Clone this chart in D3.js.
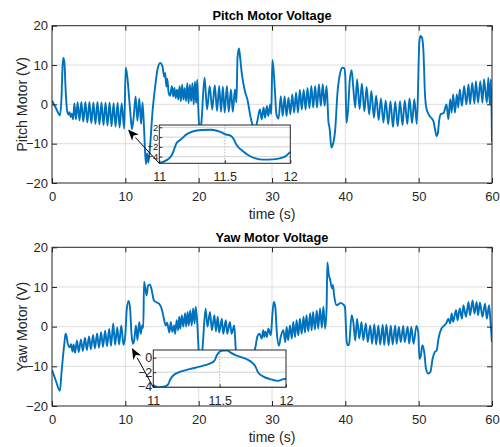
<!DOCTYPE html>
<html><head><meta charset="utf-8">
<script src="https://cdn.jsdelivr.net/npm/d3@7"></script>
<style>body{margin:0;background:#fff;} svg{display:block;font-family:"Liberation Sans",Arial,Helvetica,sans-serif;}</style>
</head><body><svg id="c" width="500" height="447"></svg>
<script>
// ---------------- data ----------------
const xTicks = [0,10,20,30,40,50,60];
const yTicks = [-20,-10,0,10,20];
const insetXTicks = [11,11.5,12];
const pitchInsetYTicks = [-4,-2,0,2];
const yawInsetYTicks = [-4,-2,0];
const titles = ["Pitch Motor Voltage","Yaw Motor Voltage"];
const yLabels = ["Pitch Motor (V)","Yaw Motor (V)"];
const xLabel = "time (s)";
const arrowTips = [[10.36,-6.4],[10.9,-5.4]]; // data coordinates the arrows point at

const pitchData = [
[0,0.9],[0.5,-0.8],[1.1,-2.8],[1.3,2],[1.45,10],[1.55,11.8],[1.7,10.5],[1.85,4],[2.05,-1.5],[2.25,-2.6],[2.4,-2.0],[2.55,-3.2],[2.7,-2.4],[2.88,-3.8],
[3.05,0.2],[3.27,-3.8],[3.5,0.5],[3.75,-4.1],[4.0,0.6],[4.27,-4.4],[4.55,0.6],[4.82,-4.6],[5.1,0.6],[5.37,-4.8],[5.65,0.5],[5.92,-5.0],[6.2,0.6],[6.47,-5.1],[6.75,0.5],[7.02,-5.3],[7.3,0.4],[7.57,-5.4],[7.85,0.5],[8.12,-5.6],[8.4,0.3],[8.67,-5.7],[8.95,0.4],[9.22,-5.9],[9.5,0.2],[9.85,-6.2],
[10.05,9.4],[10.3,6.5],[10.5,2],[10.7,-2.5],[10.9,-6.3],[11.15,-3],[11.4,2],[11.65,-4.2],[11.9,1.5],[12.15,-5],[12.35,0.5],[12.55,-6],[12.8,-15.2],[12.95,-12.5],[13.15,-14.8],[13.4,-10],[13.7,-2],[14.1,5],[14.4,9],[14.75,10.5],[15.05,9.8],[15.3,7.0],[15.42,8.0],[15.6,4.5],[15.72,6.5],[15.9,3.0],[16.1,2.2],
[16.35,4.6],[16.52,2.0],[16.7,4.2],[16.87,1.6],[17.05,3.7],[17.22,1.2],[17.4,4.6],[17.57,0.8],[17.75,5.0],[17.92,1.2],[18.1,4.2],[18.27,0.8],[18.45,5.4],[18.62,0.3],[18.8,5.0],[18.97,0.8],[19.15,5.4],[19.32,0.0],[19.5,5.8],[19.65,0.3],[19.8,6.3],
[19.95,-1],[20.15,-8],[20.4,-4],[20.8,6.8],[21.15,-1.3],[21.5,4.7],[21.85,-1.3],[22.2,4.9],[22.5,-1.7],[22.8,4.7],[23.05,-1.9],[23.3,4.5],[23.55,-2.1],[23.85,4.7],[24.1,-1.9],[24.4,3.8],[24.65,-1.9],[24.95,3.8],[25.15,0.5],[25.3,12],[25.5,14.2],[25.65,12],[25.9,7.6],[26.3,3.4],[26.7,0.8],[27.0,-2.5],[27.4,-5.5],[27.7,-6],[27.95,-4.7],[28.35,-1.3],[28.6,-3.8],[28.85,-0.8],[29.05,-3.4],[29.3,-0.4],[29.5,-3],[29.75,0],[29.9,-2.5],[30.05,11.3],[30.2,9],[30.4,3.4],[30.6,-2.5],[30.9,-3.6],
[31.2,2.1],[31.46,-3.0],[31.72,2.1],[31.98,-3.0],[32.24,1.7],[32.5,-2.5],[32.76,2.5],[33.02,-2.1],[33.28,3.0],[33.54,-2.1],[33.8,3.7],[34.06,-1.3],[34.32,3.7],[34.58,-1.3],[34.84,4.2],[35.1,-1.0],[35.36,4.7],[35.62,-0.8],[35.88,4.7],[36.14,-0.8],[36.4,5.1],[36.66,-0.4],[36.92,5.1],[37.18,-0.4],[37.44,4.7],[37.7,-4.5],
[37.85,-6],[38.1,-11],[38.25,-10.5],[38.6,-6.8],[38.95,3.4],[39.3,8],[39.6,9.3],[39.85,9.2],[40.0,7],[40.15,-4.7],[40.35,-2],[40.6,6],[40.86,8.7],[41.05,5],
[41.35,-0.8],[41.6,6.4],[41.95,-1.2],[42.25,5.3],[42.6,-1.8],[42.9,4.4],[43.25,-2.6],[43.55,3.4],[43.9,-3.4],[44.2,2.2],[44.55,-4.0],[44.85,1.5],[45.2,-4.6],[45.5,1.0],[45.85,-5.1],[46.15,0.8],[46.5,-5.8],[46.8,0.7],[47.15,-5.6],[47.45,0.8],[47.8,-5.3],[48.1,1.0],[48.45,-5.0],[48.75,1.5],[49.1,-4.8],[49.4,1.3],[49.75,-5.0],
[50.1,16],[50.25,17.4],[50.45,17],[50.65,13.5],[50.85,3],[51.05,-1],[51.5,-3],[52.0,-4.2],[52.2,-6],[52.45,-8.1],[52.6,-7.5],[52.8,-4],[53.0,-2.5],[53.4,-2.2],
[53.8,0],[54.05,-3.8],[54.3,1.3],[54.5,-2.1],[54.7,2.5],[54.95,-2.1],[55.2,2.5],[55.4,-0.8],[55.6,3.8],[55.9,-0.4],[56.2,4.7],[56.5,0],[56.8,5.1],[57.0,0],[57.3,5.5],[57.6,0.2],[57.8,5.9],[58.1,0.4],[58.4,5.9],[58.7,0.4],[58.9,6.4],[59.3,0.4],[59.5,6.8],[59.7,0.0],[59.85,6.4],[60,-9.7]
];

const yawData = [
[0,-10.9],[0.5,-13.5],[1.08,-16.2],[1.3,-11.5],[1.5,-7.5],[1.7,-4],[1.85,-1.8],[2.0,-2.5],[2.15,-4.3],[2.45,-5.2],[2.6,-4.4],[2.8,-6.3],[2.95,-4.5],[3.15,-6.6],
[3.4,-3.5],[3.65,-6.4],[3.95,-3.2],[4.2,-6.1],[4.5,-2.8],[4.75,-5.9],[5.05,-2.5],[5.3,-5.7],[5.6,-2.1],[5.85,-5.5],[6.15,-1.7],[6.4,-5.3],[6.7,-1.4],[6.95,-5.1],[7.25,-1.0],[7.5,-4.9],[7.8,-0.6],[8.05,-4.8],[8.35,0.8],[8.6,-4.6],[8.9,-0.2],[9.15,-4.5],[9.45,0.3],[9.75,-4.6],
[10.0,-2],[10.2,4.5],[10.45,6.5],[10.65,4.5],[10.85,-2],[11.05,-4.3],[11.2,-3.5],[11.45,0.3],[11.65,-3.4],[11.9,1.2],[12.1,-1.8],[12.3,0.3],[12.45,-0.3],[12.55,11.3],[12.7,10],[12.9,7.9],[13.1,10.4],[13.35,10.6],[13.6,9.2],[13.9,6.6],[14.3,6.1],[14.6,5.8],[15.0,4.2],[15.3,1.6],[15.5,0.3],[15.7,1.0],[16.0,-1.5],
[16.2,1.2],[16.4,-1.3],[16.65,0.3],[16.8,-1.8],[17.0,1.6],[17.2,-0.9],[17.35,2.5],[17.5,-0.5],[17.7,2.9],[17.9,0],[18.15,3.4],[18.3,0],[18.5,3.7],[18.65,0.3],[18.85,4.1],[19.05,0.3],[19.25,4.6],[19.45,0.8],[19.6,5.0],[19.8,1.2],
[20.0,-6],[20.2,-10],[20.5,-6],[20.95,4.5],[21.2,0],[21.55,3.7],[21.8,-0.9],[22.15,2.9],[22.35,-1.2],[22.6,2.5],[22.8,-1.5],[23.15,2.0],[23.35,-1.8],[23.7,1.6],[23.9,-1.8],[24.25,1.2],[24.5,-1.8],[24.85,0.3],[25.05,-5.5],[25.3,-10],[25.8,-12],[26.5,-11],[27.2,-8],[27.75,-5.1],[28.0,-2.5],[28.3,-1.8],[28.6,-3.0],[28.8,-0.9],[28.95,-2.6],[29.1,-1.3],[29.3,-2.6],[29.5,-0.5],[29.85,-2.2],[30.05,3],[30.25,6.2],[30.45,5.0],[30.65,-1.3],[30.95,-4.8],[31.2,-2.5],
[31.55,-0.9],[31.8,-3.9],[32.0,-0.1],[32.2,-3.4],[32.45,0.3],[32.7,-3.0],[32.9,1.2],[33.15,-2.6],[33.35,1.6],[33.6,-2.2],[33.8,2.0],[34.05,-1.8],[34.3,2.5],[34.5,-1.5],[34.7,2.9],[34.95,-1.2],[35.2,3.4],[35.4,-0.9],[35.6,3.7],[35.85,-0.7],[36.1,4.1],[36.3,-0.5],[36.55,4.6],[36.8,-0.3],[37.0,5.0],[37.25,-0.5],[37.45,5],
[37.55,16.2],[37.75,13],[37.9,12],[38.2,9.6],[38.3,10.5],[38.5,7.5],[38.8,5.4],[39.05,5.6],[39.35,6],[39.7,5.6],[39.95,5],[40.15,-3],[40.3,-4.7],[40.5,-4.5],[40.86,2.9],[41.1,1],[41.35,-3.5],
[41.6,2.0],[41.9,-3.0],[42.2,1.2],[42.45,-3.4],[42.8,0.8],[43.05,-3.9],[43.4,0.3],[43.65,-4.3],[43.95,0.6],[44.2,-4.5],[44.5,0.3],[44.75,-4.5],[45.1,0.5],[45.3,-4.7],[45.6,0.5],[45.9,-4.7],[46.2,0.3],[46.45,-4.5],[46.8,0.3],[47.0,-4.3],[47.3,0],[47.55,-3.9],[47.9,0.2],[48.1,-3.9],[48.5,0],[48.7,-4.3],[49.0,-0.1],[49.3,-4.3],[49.7,0.2],
[49.95,-1.5],[50.1,-8.1],[50.3,-7.3],[50.5,-4.7],[50.75,-6.3],[51.0,-10.6],[51.3,-11.8],[51.6,-11.4],[51.9,-8.1],[52.2,-6.4],[52.45,-6],[52.7,-3],[53.1,-0.5],[53.6,0.5],[53.8,1.0],
[54.05,2.0],[54.3,0.8],[54.5,3.3],[54.7,1.2],[55.1,4.2],[55.3,1.6],[55.6,4.6],[55.9,2.0],[56.1,5.4],[56.45,2.5],[56.8,6.2],[57.0,2.9],[57.35,6.6],[57.6,3.3],[57.9,6.2],[58.1,2.9],[58.35,6.1],[58.7,2.5],[59.05,5.8],[59.3,2.0],[59.6,5.4],[59.8,1.2],[60,-3.9]
];

const pitchInsetData = [
[11.0,-5.3],[11.056,-4.7],[11.095,-3.7],[11.12,-2.0],[11.13,-1.3],[11.16,-0.6],[11.21,0.6],[11.26,1.2],[11.32,1.45],[11.39,1.5],[11.44,1.3],[11.48,0.9],[11.5,0.6],[11.54,0.35],[11.565,-0.3],[11.59,-1.6],[11.63,-2.7],[11.68,-3.7],[11.74,-4.4],[11.79,-4.6],[11.87,-4.55],[11.95,-4.1],[12.0,-3.0]
];
const yawInsetData = [
[11.0,-3.86],[11.038,-4.05],[11.088,-3.95],[11.113,-3.64],[11.126,-3.05],[11.15,-2.45],[11.21,-1.9],[11.28,-1.55],[11.35,-1.23],[11.43,-0.77],[11.46,-0.45],[11.48,0.36],[11.5,0.82],[11.53,1.0],[11.56,1.0],[11.58,0.73],[11.63,0.27],[11.7,-0.18],[11.75,-0.77],[11.77,-1.23],[11.79,-2.05],[11.83,-2.6],[11.88,-2.95],[11.94,-3.2],[11.98,-2.95],[12.0,-2.9]
];

// ---------------- layout ----------------
const svg = d3.select("#c");
const LINE = "#0072BD", AX = "#262626", GRID = "#dedede";
const panels = [
  {data: pitchData, inset: pitchInsetData, insetY: pitchInsetYTicks, insetDom: [-5.35,2.47], insetFs: 9.5,
   top: 25.7, bottom: 183, titleY: 19.5, labelY: 219,
   ib: {x:159.3, y:125, w:131, h:38.3}, tip: arrowTips[0], title: titles[0], ylab: yLabels[0]},
  {data: yawData, inset: yawInsetData, insetY: yawInsetYTicks, insetDom: [-4.08,1.06], insetFs: 12.5,
   top: 247.3, bottom: 406, titleY: 241.5, labelY: 442,
   ib: {x:153.3, y:350, w:132.7, h:37.3}, tip: arrowTips[1], title: titles[1], ylab: yLabels[1]}
];
const L = 52, R = 492;

panels.forEach((p, i) => {
  const x = d3.scaleLinear().domain([0,60]).range([L,R]);
  const y = d3.scaleLinear().domain([-20,20]).range([p.bottom,p.top]);
  const g = svg.append("g");
  // grid
  g.selectAll(".gx").data(xTicks.slice(1,-1)).join("line")
    .attr("x1",d=>x(d)).attr("x2",d=>x(d)).attr("y1",p.top).attr("y2",p.bottom)
    .attr("stroke",GRID).attr("stroke-width",1);
  g.selectAll(".gy").data(yTicks.slice(1,-1)).join("line")
    .attr("y1",d=>y(d)).attr("y2",d=>y(d)).attr("x1",L).attr("x2",R)
    .attr("stroke",GRID).attr("stroke-width",1);
  // line
  const clipId = "clip"+i;
  svg.append("clipPath").attr("id",clipId).append("rect")
    .attr("x",L).attr("y",p.top).attr("width",R-L).attr("height",p.bottom-p.top);
  const line = d3.line().x(d=>x(d[0])).y(d=>y(d[1])).curve(d3.curveMonotoneX);
  g.append("path").datum(p.data).attr("d",line).attr("fill","none")
    .attr("stroke",LINE).attr("stroke-width",1.9).attr("stroke-linejoin","round")
    .attr("clip-path","url(#"+clipId+")");
  // axes
  const fs = 13;
  g.append("g").attr("transform",`translate(0,${p.bottom})`)
    .call(d3.axisBottom(x).tickValues(xTicks).tickFormat(d3.format("d")).tickSizeInner(-5).tickSizeOuter(0).tickPadding(9));
  g.append("g").attr("transform",`translate(${L},0)`)
    .call(d3.axisLeft(y).tickValues(yTicks).tickFormat(d3.format("d")).tickSizeInner(-5).tickSizeOuter(0).tickPadding(4));
  g.append("g").attr("transform",`translate(0,${p.top})`)
    .call(d3.axisTop(x).tickValues(xTicks).tickFormat("").tickSizeInner(-5).tickSizeOuter(0));
  g.append("g").attr("transform",`translate(${R},0)`)
    .call(d3.axisRight(y).tickValues(yTicks).tickFormat("").tickSizeInner(-5).tickSizeOuter(0));
  g.selectAll(".domain").remove();
  g.selectAll(".tick line").attr("stroke",AX);
  g.selectAll(".tick text").attr("fill",AX).attr("font-size",fs).attr("font-family","Liberation Sans, Arial, sans-serif");
  g.append("rect").attr("x",L).attr("y",p.top).attr("width",R-L).attr("height",p.bottom-p.top)
    .attr("fill","none").attr("stroke",AX).attr("stroke-width",1);
  // title / labels
  g.append("text").attr("x",(L+R)/2).attr("y",p.titleY).attr("text-anchor","middle")
    .attr("font-weight","bold").attr("font-size",12.8).attr("fill","#000").text(p.title);
  g.append("text").attr("x",(L+R)/2).attr("y",p.labelY).attr("text-anchor","middle")
    .attr("font-size",14).attr("fill",AX).text(xLabel);
  g.append("text").attr("transform",`translate(27,${(p.top+p.bottom)/2}) rotate(-90)`)
    .attr("text-anchor","middle").attr("font-size",14.2).attr("fill",AX).text(p.ylab);

  // inset
  const b = p.ib;
  const ix = d3.scaleLinear().domain([11,12]).range([b.x,b.x+b.w]);
  const iy = d3.scaleLinear().domain(p.insetDom).range([b.y+b.h,b.y]);
  const gi = svg.append("g");
  gi.append("rect").attr("x",b.x).attr("y",b.y).attr("width",b.w).attr("height",b.h).attr("fill","#fff");
  gi.selectAll(".igx").data([11.5]).join("line")
    .attr("x1",d=>ix(d)).attr("x2",d=>ix(d)).attr("y1",b.y).attr("y2",b.y+b.h)
    .attr("stroke","#b8b8b8").attr("stroke-width",1).attr("stroke-dasharray","1.5,1.5");
  gi.selectAll(".igy").data(p.insetY).join("line")
    .attr("y1",d=>iy(d)).attr("y2",d=>iy(d)).attr("x1",b.x).attr("x2",b.x+b.w)
    .attr("stroke","#d0d0d0").attr("stroke-width",1);
  const iclip = "iclip"+i;
  svg.append("clipPath").attr("id",iclip).append("rect")
    .attr("x",b.x).attr("y",b.y).attr("width",b.w).attr("height",b.h);
  const iline = d3.line().x(d=>ix(d[0])).y(d=>iy(d[1])).curve(d3.curveMonotoneX);
  gi.append("path").datum(p.inset).attr("d",iline).attr("fill","none")
    .attr("stroke",LINE).attr("stroke-width",1.9).attr("clip-path","url(#"+iclip+")");
  const gxA = gi.append("g").attr("transform",`translate(0,${b.y+b.h})`)
    .call(d3.axisBottom(ix).tickValues(insetXTicks).tickFormat(d=>String(d)).tickSizeInner(-3).tickSizeOuter(0).tickPadding(9));
  const gyA = gi.append("g").attr("transform",`translate(${b.x},0)`)
    .call(d3.axisLeft(iy).tickValues(p.insetY).tickFormat(d3.format("d")).tickSizeInner(-3).tickSizeOuter(0).tickPadding(1));
  gi.selectAll(".domain").remove();
  gi.selectAll(".tick line").attr("stroke",AX);
  gxA.selectAll(".tick text").attr("fill",AX).attr("font-size",12.5).attr("font-family","Liberation Sans, Arial, sans-serif");
  gyA.selectAll(".tick text").attr("fill",AX).attr("font-size",p.insetFs).attr("font-family","Liberation Sans, Arial, sans-serif");
  gi.append("rect").attr("x",b.x).attr("y",b.y).attr("width",b.w).attr("height",b.h)
    .attr("fill","none").attr("stroke",AX).attr("stroke-width",1);

  // arrow from inset corner to the main curve
  const tx = x(p.tip[0]), ty = y(p.tip[1]);
  const sx = b.x, sy = b.y + b.h;
  const ang = Math.atan2(ty - sy, tx - sx);
  const hl = 11, hw = 4.5;
  const bx = tx - hl*Math.cos(ang), by = ty - hl*Math.sin(ang);
  const px = -Math.sin(ang), py = Math.cos(ang);
  svg.append("line").attr("x1",sx).attr("y1",sy).attr("x2",bx).attr("y2",by)
    .attr("stroke","#000").attr("stroke-width",1);
  svg.append("path").attr("d",`M${tx},${ty}L${bx+hw*px},${by+hw*py}L${bx+3*Math.cos(ang)},${by+3*Math.sin(ang)}L${bx-hw*px},${by-hw*py}Z`)
    .attr("fill","#000");
});
</script></body></html>
